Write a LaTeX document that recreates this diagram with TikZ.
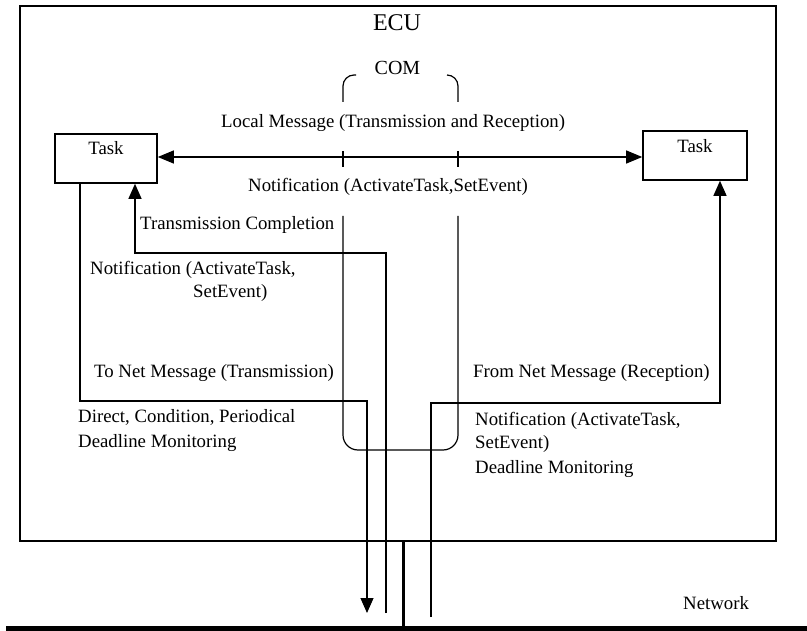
\documentclass[tikz,border=0pt]{standalone}
\usepackage{fontspec}
\setmainfont{Liberation Serif}
\usetikzlibrary{arrows.meta,positioning}

\begin{document}
\begin{tikzpicture}[x=1pt,y=-1pt,
		txt/.style={anchor=base west,inner sep=0pt,font=\fontsize{18.8}{22}\selectfont},
		taskbox/.style={draw,line width=1.6pt,minimum height=49pt,inner sep=0pt},
		thin/.style={line width=1.2pt},
		tip/.style={-{Triangle[length=15pt,width=13pt]}},
		tips/.style={{Triangle[length=16pt,width=13pt]}-{Triangle[length=16pt,width=13pt]}}]
		\useasboundingbox (0,0) rectangle (807,631);
		\draw[line width=2pt] (20,6) rectangle (776,541);
		\node[anchor=base,inner sep=0pt,font=\fontsize{24}{28}\selectfont] (ecu) at (397,31) {ECU};
		\node[anchor=base,inner sep=0pt,font=\fontsize{20}{24}\selectfont] (com) at (397.5,75) {COM};
		\node[taskbox,minimum width=102pt] (taskL) at (106,158.5) {};
		\node[taskbox,minimum width=104pt] (taskR) at (695,155.5) {};
		\node[txt,anchor=base] at (106,155) {Task};
		\node[txt,anchor=base] at (695,153) {Task};
		% COM frame
		\draw[thin,rounded corners=11pt] (343,102) -- (343,75) -- (356,75);
		\draw[thin,rounded corners=11pt] (447,75) -- (458,75) -- (458,102);
		\draw[thin] (343,151) -- (343,167);
		\draw[thin] (458,151) -- (458,167);
		\draw[thin,rounded corners=15pt] (343,216) -- (343,450) -- (458,450) -- (458,216);
		% messages
		\coordinate (msg) at (0,157);
		\draw[thin,tips] (taskL.east |- msg) -- (taskR.west |- msg);
		\coordinate (txout) at (367,613);
		\coordinate (txdone) at (386,613);
		\coordinate (rxin) at (431,617);
		\draw[thin,tip] (taskL.south -| 80,0) -- (80,401) -- (367,401) -- (txout);
		\draw[thin,tip] (txdone) -- (386,253) -- (135,253) -- (taskL.south -| 135,0);
		\draw[thin,tip] (rxin) -- (431,403) -- (720,403) -- (taskR.south -| 720,0);
		% network
		\coordinate (bus) at (403,626);
		\draw[line width=3pt] (403,541) -- (bus);
		\fill (6,626) rectangle (807,631);
		\node[txt] at (221,128) {Local Message (Transmission and Reception)};
		\node[txt] at (248,192) {Notification (ActivateTask,SetEvent)};
		\node[txt] at (140,230) {Transmission Completion};
		\node[txt] at (90,275) {Notification (ActivateTask,};
		\node[txt] at (193,298) {SetEvent)};
		\node[txt] at (94,378) {To Net Message (Transmission)};
		\node[txt] at (473,378) {From Net Message (Reception)};
		\node[txt] at (78,423) {Direct, Condition, Periodical};
		\node[txt] at (78,448) {Deadline Monitoring};
		\node[txt] at (475,425) {Notification (ActivateTask,};
		\node[txt] at (475,449) {SetEvent)};
		\node[txt] at (475,473) {Deadline Monitoring};
		\node[txt] at (683,609) {Network};
	\end{tikzpicture}
\end{document}
